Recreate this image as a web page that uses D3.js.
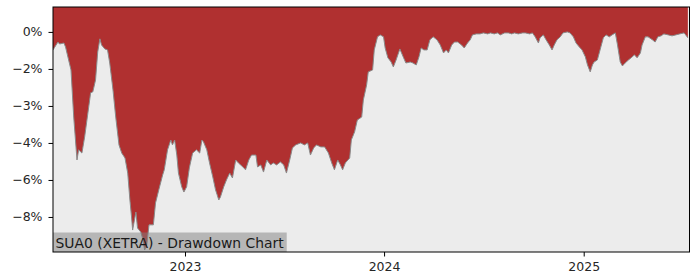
<!DOCTYPE html>
<html>
<head>
<meta charset="utf-8">
<script src="https://cdn.jsdelivr.net/npm/d3@7"></script>
<style>
  html, body { margin: 0; padding: 0; background: #ffffff; }
  svg { display: block; }
  text { font-family: "DejaVu Sans", sans-serif; }
</style>
</head>
<body>
<svg id="chart" width="700" height="280"></svg>
<script>
// ---- data (drawdown in %) ----
const dates = [
  "2022-05-04","2022-05-13","2022-05-16","2022-05-24","2022-05-27","2022-06-06","2022-06-11","2022-06-17","2022-06-20","2022-06-26",
  "2022-07-01","2022-07-07","2022-07-12","2022-07-16","2022-07-21","2022-07-25","2022-07-29","2022-08-01","2022-08-07","2022-08-12",
  "2022-08-16","2022-08-22","2022-08-27","2022-09-02","2022-09-07","2022-09-13","2022-09-18","2022-09-22","2022-09-25","2022-09-27",
  "2022-10-03","2022-10-06","2022-10-12","2022-10-16","2022-10-19","2022-10-23","2022-10-27","2022-11-01","2022-11-04","2022-11-08",
  "2022-11-14","2022-11-21","2022-11-24","2022-11-30","2022-12-06","2022-12-09","2022-12-13","2022-12-17","2022-12-20","2022-12-26",
  "2022-12-30","2023-01-04","2023-01-09","2023-01-15","2023-01-22","2023-01-28","2023-02-01","2023-02-04","2023-02-10","2023-02-15",
  "2023-02-21","2023-02-26","2023-03-04","2023-03-07","2023-03-13","2023-03-18","2023-03-24","2023-03-29","2023-04-04","2023-04-09",
  "2023-04-17","2023-04-22","2023-04-28","2023-05-03","2023-05-11","2023-05-14","2023-05-20","2023-05-25","2023-05-31","2023-06-07",
  "2023-06-12","2023-06-18","2023-06-25","2023-07-01","2023-07-06","2023-07-12","2023-07-17","2023-07-23","2023-08-01","2023-08-08",
  "2023-08-14","2023-08-19","2023-08-25","2023-08-30","2023-09-07","2023-09-14","2023-09-21","2023-09-27","2023-10-02","2023-10-08",
  "2023-10-13","2023-10-17","2023-10-22","2023-10-30","2023-11-02","2023-11-08","2023-11-13","2023-11-21","2023-11-24","2023-11-30",
  "2023-12-03","2023-12-11","2023-12-14","2023-12-20","2023-12-25","2023-12-31","2024-01-03","2024-01-08","2024-01-14","2024-01-18",
  "2024-01-23","2024-01-30","2024-02-05","2024-02-10","2024-02-18","2024-02-23","2024-02-29","2024-03-05","2024-03-09","2024-03-14",
  "2024-03-20","2024-03-25","2024-03-31","2024-04-07","2024-04-13","2024-04-19","2024-04-24","2024-04-28","2024-05-04","2024-05-09",
  "2024-05-15","2024-05-22","2024-05-27","2024-06-02","2024-06-07","2024-06-11","2024-06-18","2024-06-25","2024-07-01","2024-07-09",
  "2024-07-14","2024-07-21","2024-07-27","2024-08-01","2024-08-09","2024-08-16","2024-08-22","2024-08-27","2024-09-03","2024-09-11",
  "2024-09-16","2024-09-24","2024-09-29","2024-10-04","2024-10-10","2024-10-13","2024-10-19","2024-10-24","2024-10-30","2024-11-04",
  "2024-11-08","2024-11-13","2024-11-19","2024-11-24","2024-12-02","2024-12-07","2024-12-13","2024-12-18","2024-12-24","2024-12-29",
  "2025-01-04","2025-01-08","2025-01-13","2025-01-17","2025-01-20","2025-01-26","2025-01-31","2025-02-06","2025-02-11","2025-02-17",
  "2025-02-22","2025-02-28","2025-03-04","2025-03-09","2025-03-13","2025-03-18","2025-03-24","2025-03-29","2025-04-04","2025-04-09",
  "2025-04-15","2025-04-18","2025-04-24","2025-04-29","2025-05-07","2025-05-12","2025-05-17","2025-05-23","2025-05-28","2025-06-05",
  "2025-06-12","2025-06-19","2025-06-26","2025-07-04","2025-07-07","2025-07-11"
];
const drawdown = [
  -0.73,-0.41,-0.49,-0.45,-0.61,-1.54,-3.45,-5.19,-4.78,-4.91,
  -4.26,-3.28,-2.47,-2.43,-1.95,-0.81,-0.28,-0.53,-0.69,-0.73,
  -1.26,-2.35,-3.45,-4.58,-4.91,-5.11,-5.72,-6.81,-7.50,-8.03,
  -7.30,-7.95,-8.11,-8.43,-8.84,-8.63,-7.82,-7.82,-7.82,-6.93,
  -6.40,-5.80,-5.59,-4.78,-4.38,-4.58,-4.38,-4.99,-5.72,-6.28,
  -6.49,-6.28,-5.51,-4.91,-4.78,-4.91,-4.38,-4.46,-4.78,-5.31,
  -5.88,-6.40,-6.81,-6.69,-6.28,-6.00,-5.72,-5.92,-5.19,-5.31,
  -5.47,-5.59,-5.19,-4.99,-4.99,-5.47,-5.39,-5.68,-5.19,-5.39,
  -5.31,-5.39,-5.27,-5.39,-5.72,-5.19,-4.70,-4.58,-4.50,-4.58,
  -4.50,-4.99,-4.70,-4.58,-4.66,-4.66,-4.91,-5.31,-5.59,-5.19,
  -5.39,-5.59,-5.31,-5.11,-4.38,-4.05,-3.57,-3.45,-2.76,-2.15,
  -1.62,-1.54,-0.73,-0.20,-0.12,-0.20,-0.65,-1.05,-1.22,-1.42,
  -1.14,-0.69,-1.01,-1.26,-1.22,-1.26,-1.34,-1.01,-0.65,-0.73,
  -0.73,-0.32,-0.20,-0.32,-0.53,-0.85,-0.73,-0.85,-0.53,-0.41,
  -0.41,-0.53,-0.65,-0.45,-0.32,-0.12,-0.08,-0.08,-0.04,-0.08,
  -0.04,-0.08,-0.04,-0.12,-0.04,-0.04,-0.08,-0.04,-0.08,-0.04,
  -0.04,-0.08,-0.04,-0.20,-0.45,-0.24,-0.12,-0.32,-0.53,-0.73,
  -0.53,-0.32,-0.20,-0.04,0.00,-0.04,-0.20,-0.45,-0.61,-0.73,
  -1.01,-1.34,-1.62,-1.34,-1.22,-1.14,-0.73,-0.24,-0.12,-0.20,
  -0.12,-0.04,-0.53,-1.22,-1.38,-1.26,-1.14,-1.05,-0.93,-1.05,
  -0.85,-0.53,-0.20,-0.20,-0.32,-0.41,-0.20,-0.16,-0.08,-0.12,
  -0.16,-0.12,-0.08,-0.04,-0.12,-0.24
];
const yTickValues = [0, -1.5, -3, -4.5, -6, -7.5];
const yTickLabels = ["0%", "\u22122%", "\u22123%", "\u22124%", "\u22126%", "\u22128%"];
const xTickDates = ["2023-01-01", "2024-01-01", "2025-01-01"];
const xTickLabels = ["2023", "2024", "2025"];
const xDomain = ["2022-05-04", "2025-07-14"];
const yDomain = [-8.92, 1.01];
const title = "SUA0 (XETRA) - Drawdown Chart";

// ---- layout ----
const parse = d3.utcParse("%Y-%m-%d");
const data = dates.map((d, i) => ({ date: parse(d), value: drawdown[i] }));
const M = { left: 53, right: 689.5, top: 7, bottom: 252 };

const x = d3.scaleUtc().domain(xDomain.map(parse)).range([M.left, M.right]);
const y = d3.scaleLinear().domain(yDomain).range([M.bottom, M.top]);

const svg = d3.select("#chart");

svg.append("defs").append("clipPath").attr("id", "plotclip")
  .append("rect").attr("x", M.left).attr("y", M.top)
  .attr("width", M.right - M.left).attr("height", M.bottom - M.top);

svg.append("rect")
  .attr("x", M.left).attr("y", M.top)
  .attr("width", M.right - M.left).attr("height", M.bottom - M.top)
  .attr("fill", "#ececec");

const g = svg.append("g").attr("clip-path", "url(#plotclip)");

const area = d3.area()
  .x(d => x(d.date))
  .y0(y(yDomain[1]))
  .y1(d => y(d.value));

g.append("path").datum(data)
  .attr("d", area)
  .attr("fill", "#b03030");

const line = d3.line().x(d => x(d.date)).y(d => y(d.value));
g.append("path").datum(data)
  .attr("d", line)
  .attr("fill", "none")
  .attr("stroke", "#8a8a8a")
  .attr("stroke-width", 1);

// title box
const tg = svg.append("g");
const tText = tg.append("text")
  .attr("x", M.left + 2.5).attr("y", M.bottom - 4)
  .attr("font-size", 13.9)
  .attr("fill", "#1a1a1a")
  .text(title);
const bb = tText.node().getBBox();
tg.insert("rect", "text")
  .attr("x", M.left).attr("y", M.bottom - 19.5)
  .attr("width", bb.width + 5).attr("height", 19.5)
  .attr("fill", "#808080").attr("fill-opacity", 0.5);

// axes
const yAxis = d3.axisLeft(y)
  .tickValues(yTickValues)
  .tickFormat((d, i) => yTickLabels[i])
  .tickSize(4.5).tickPadding(6);
const ya = svg.append("g").attr("transform", `translate(${M.left},0)`).call(yAxis);
ya.select(".domain").remove();

const xAxis = d3.axisBottom(x)
  .tickValues(xTickDates.map(parse))
  .tickFormat((d, i) => xTickLabels[i])
  .tickSize(4.5).tickPadding(5.5);
const xa = svg.append("g").attr("transform", `translate(0,${M.bottom})`).call(xAxis);
xa.select(".domain").remove();

[ya, xa].forEach(a => {
  a.selectAll("text").attr("font-size", 12.5).attr("fill", "#262626")
    .attr("font-family", "DejaVu Sans, sans-serif");
  a.selectAll("line").attr("stroke", "#000");
});

// frame
svg.append("rect")
  .attr("x", M.left).attr("y", M.top)
  .attr("width", M.right - M.left).attr("height", M.bottom - M.top)
  .attr("fill", "none").attr("stroke", "#000").attr("stroke-width", 1);
</script>
</body>
</html>
